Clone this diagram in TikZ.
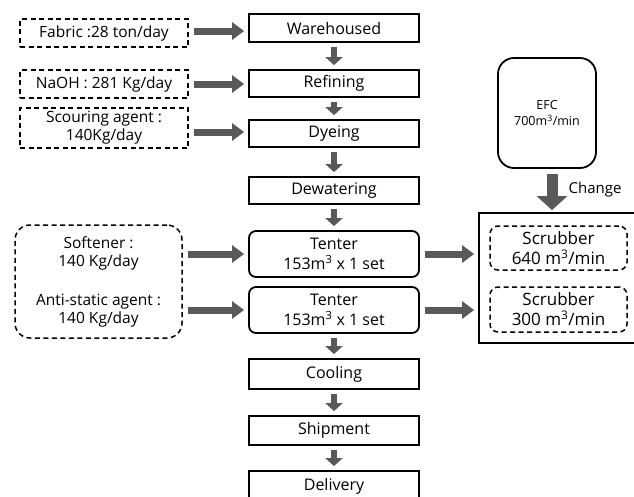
\documentclass[tikz,border=0pt]{standalone}
\usepackage{fontspec}
\setmainfont{Open Sans}
\usetikzlibrary{arrows.meta}
\definecolor{arr}{HTML}{595959}
\begin{document}
\begin{tikzpicture}[x=1pt,y=-1pt,
  proc/.style={draw, line width=1.8pt, minimum width=170pt, minimum height=28pt, inner sep=0pt, align=center, font=\fontsize{16}{20}\selectfont},
  rproc/.style={proc, rounded corners=7pt, minimum height=46pt},
  inbox/.style={draw, dash pattern=on 5pt off 3.5pt, line width=1.5pt, minimum width=168pt, inner sep=0pt, align=center, font=\fontsize{15.5}{18}\selectfont},
  harrow/.style={draw=arr, line width=7pt, -{Triangle[width=17pt,length=12pt]}, shorten <=5pt, shorten >=4pt},
  varrow/.style={draw=arr, line width=6.5pt, -{Triangle[width=17pt,length=8pt]}, shorten <=4pt, shorten >=4pt},
  bigarrow/.style={draw=arr, line width=11pt, -{Triangle[width=30pt,length=14pt]}, shorten <=5pt, shorten >=2pt}
]
\useasboundingbox (0,0) rectangle (634,496);
% main column
\node[proc] (wh) at (334,28) {Warehoused};
\node[proc, minimum height=27pt] (ref) at (334,83.5) {Refining};
\node[proc, minimum height=27pt] (dye) at (334,133.5) {Dyeing};
\node[proc, minimum height=27pt] (dew) at (334,190.5) {Dewatering};
\node[rproc] (t1) at (334,254) {Tenter\\153m$^{\mathrm{3}}$ x 1 set};
\node[rproc] (t2) at (334,310) {Tenter\\153m$^{\mathrm{3}}$ x 1 set};
\node[proc, minimum height=30pt] (cool) at (334,374) {Cooling};
\node[proc, minimum height=29pt] (ship) at (334,430.5) {Shipment};
\node[proc, minimum height=30pt] (del) at (334,486) {Delivery};
% inputs
\node[inbox, minimum height=28pt] (fab) at (104,33) {Fabric :28 ton/day};
\node[inbox, minimum height=28pt] (naoh) at (104,84) {NaOH : 281 Kg/day};
\node[inbox, minimum height=40pt] (scour) at (104,128) {Scouring agent :\\140Kg/day};
\node[inbox, rounded corners=15pt, minimum width=167pt, minimum height=113pt] (soft) at (98.5,281.5)
  {Softener :\\140 Kg/day\\[21pt]Anti-static agent :\\140 Kg/day};
% right side
\node[draw, line width=1.8pt, rounded corners=16pt, minimum width=98pt, minimum height=110pt, align=center, font=\fontsize{12.5}{16}\selectfont] (efc) at (547,113) {EFC\\700m$^{\mathrm{3}}$/min};
\node[draw, line width=1.8pt, minimum width=166pt, minimum height=130pt] (big) at (562,278) {};
\node[inbox, rounded corners=8pt, minimum width=137pt, minimum height=44pt, font=\fontsize{17}{20}\selectfont] (sc1) at (558.5,248) {Scrubber\\640 m$^{\mathrm{3}}$/min};
\node[inbox, rounded corners=8pt, minimum width=137pt, minimum height=45pt, font=\fontsize{17}{20}\selectfont] (sc2) at (558.5,309.5) {Scrubber\\300 m$^{\mathrm{3}}$/min};
\node[font=\fontsize{15}{18}\selectfont] (chg) at (595,190) {Change};
% arrows
\draw[harrow] (fab.east |- 0,31) -- (wh.west |- 0,31);
\draw[harrow] (naoh.east) -- (naoh.east -| ref.west);
\draw[harrow] (scour.east |- 0,132) -- (dye.west |- 0,132);
\draw[harrow] (soft.east |- t1) -- (t1.west);
\draw[harrow] (soft.east |- t2) -- (t2.west);
\draw[harrow] (t1.east) -- (t1.east -| big.west);
\draw[harrow] (t2.east) -- (t2.east -| big.west);
\draw[varrow] (wh) -- (ref);
\draw[varrow] (ref) -- (dye);
\draw[varrow] (dye) -- (dew);
\draw[varrow] (dew) -- (t1);
\draw[varrow] (t2) -- (cool);
\draw[varrow] (cool) -- (ship);
\draw[varrow] (ship) -- (del);
\draw[bigarrow] (efc.south -| 552,0) -- (big.north -| 552,0);
\end{tikzpicture}
\end{document}
